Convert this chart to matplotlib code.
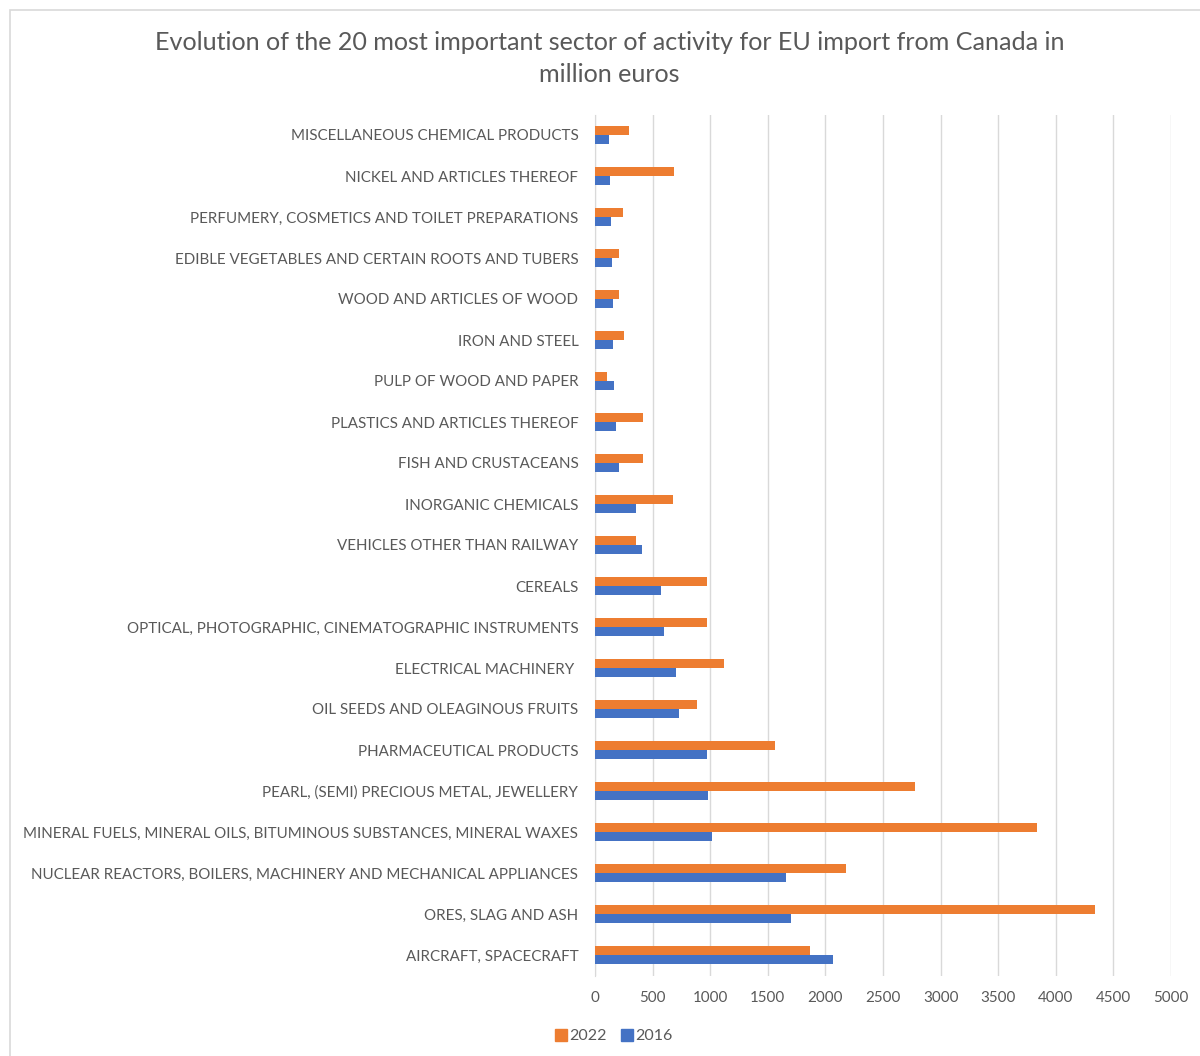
import numpy as np
import matplotlib.pyplot as plt
from matplotlib.patches import Rectangle
from matplotlib.lines import Line2D

DPI = 100

# sectors, bottom to top
sectors = [
    "AIRCRAFT, SPACECRAFT",
    "ORES, SLAG AND ASH",
    "NUCLEAR REACTORS, BOILERS, MACHINERY AND MECHANICAL APPLIANCES",
    "MINERAL FUELS, MINERAL OILS, BITUMINOUS SUBSTANCES, MINERAL WAXES",
    "PEARL, (SEMI) PRECIOUS METAL, JEWELLERY",
    "PHARMACEUTICAL PRODUCTS",
    "OIL SEEDS AND OLEAGINOUS FRUITS",
    "ELECTRICAL MACHINERY ",
    "OPTICAL, PHOTOGRAPHIC, CINEMATOGRAPHIC INSTRUMENTS",
    "CEREALS",
    "VEHICLES OTHER THAN RAILWAY",
    "INORGANIC CHEMICALS",
    "FISH AND CRUSTACEANS",
    "PLASTICS AND ARTICLES THEREOF",
    "PULP OF WOOD AND PAPER",
    "IRON AND STEEL",
    "WOOD AND ARTICLES OF WOOD",
    "EDIBLE VEGETABLES AND CERTAIN ROOTS AND TUBERS",
    "PERFUMERY, COSMETICS AND TOILET PREPARATIONS",
    "NICKEL AND ARTICLES THEREOF",
    "MISCELLANEOUS CHEMICAL PRODUCTS",
]

v2022 = [1866, 4336, 2182, 3836, 2774, 1565, 887, 1116, 969, 973,
         360, 680, 413, 413, 108, 250, 209, 212, 247, 686, 299]
v2016 = [2065, 1702, 1654, 1017, 983, 969, 726, 705, 596, 575,
         407, 360, 212, 186, 166, 157, 157, 151, 142, 131, 122]

ORANGE = "#ED7D31"
BLUE = "#4472C4"
GREY = "#595959"

plt.rcParams['font.family'] = ['Lato', 'DejaVu Sans']

fig = plt.figure(figsize=(1200/DPI, 1056/DPI), dpi=DPI)

# light chart-area frame
fig.patches.append(Rectangle((10/1200, -0.01), 1.0, 1 - 10/1056 + 0.01,
                             transform=fig.transFigure, fill=False,
                             edgecolor="#d9d9d9", linewidth=1.2))

n = len(sectors)
ax = fig.add_axes([595/1200, 1 - 975.5/1056, 576/1200, (975.5 - 114.5)/1056])
y = np.arange(n)
h = 0.23
ax.barh(y + h/2, v2022, height=h, color=ORANGE, label="2022", zorder=3)
ax.barh(y - h/2, v2016, height=h, color=BLUE, label="2016", zorder=3)

ax.set_ylim(-0.5, n - 0.5)
ax.set_xlim(0, 5000)
ax.set_xticks(np.arange(0, 5001, 500))
ax.set_yticks(y)
ax.set_yticklabels(sectors)
ax.tick_params(axis='both', length=0, labelsize=10.9, colors=GREY)
ax.tick_params(axis='y', pad=12)
ax.tick_params(axis='x', pad=11)
ax.grid(axis='x', color="#d9d9d9", linewidth=1, zorder=0)
for s in ['top', 'right', 'bottom']:
    ax.spines[s].set_visible(False)
ax.spines['left'].set_color("#d9d9d9")

fig.text(0.508, 1 - 43/1056, "Evolution of the 20 most important sector of activity for EU import from Canada in",
         ha='center', va='center', fontsize=18.1, color=GREY)
fig.text(0.508, 1 - 75/1056, "million euros",
         ha='center', va='center', fontsize=18.1, color=GREY)

handles = [Line2D([], [], marker='s', linestyle='none', color=ORANGE, markersize=8),
           Line2D([], [], marker='s', linestyle='none', color=BLUE, markersize=8)]
fig.legend(handles, ["2022", "2016"], loc='center', bbox_to_anchor=(613/1200, 1 - 1036/1056),
           ncol=2, frameon=False, fontsize=11.5, labelcolor=GREY,
           handletextpad=0.0, columnspacing=0.8, handlelength=1.0)

plt.savefig('out.png', dpi=DPI)
